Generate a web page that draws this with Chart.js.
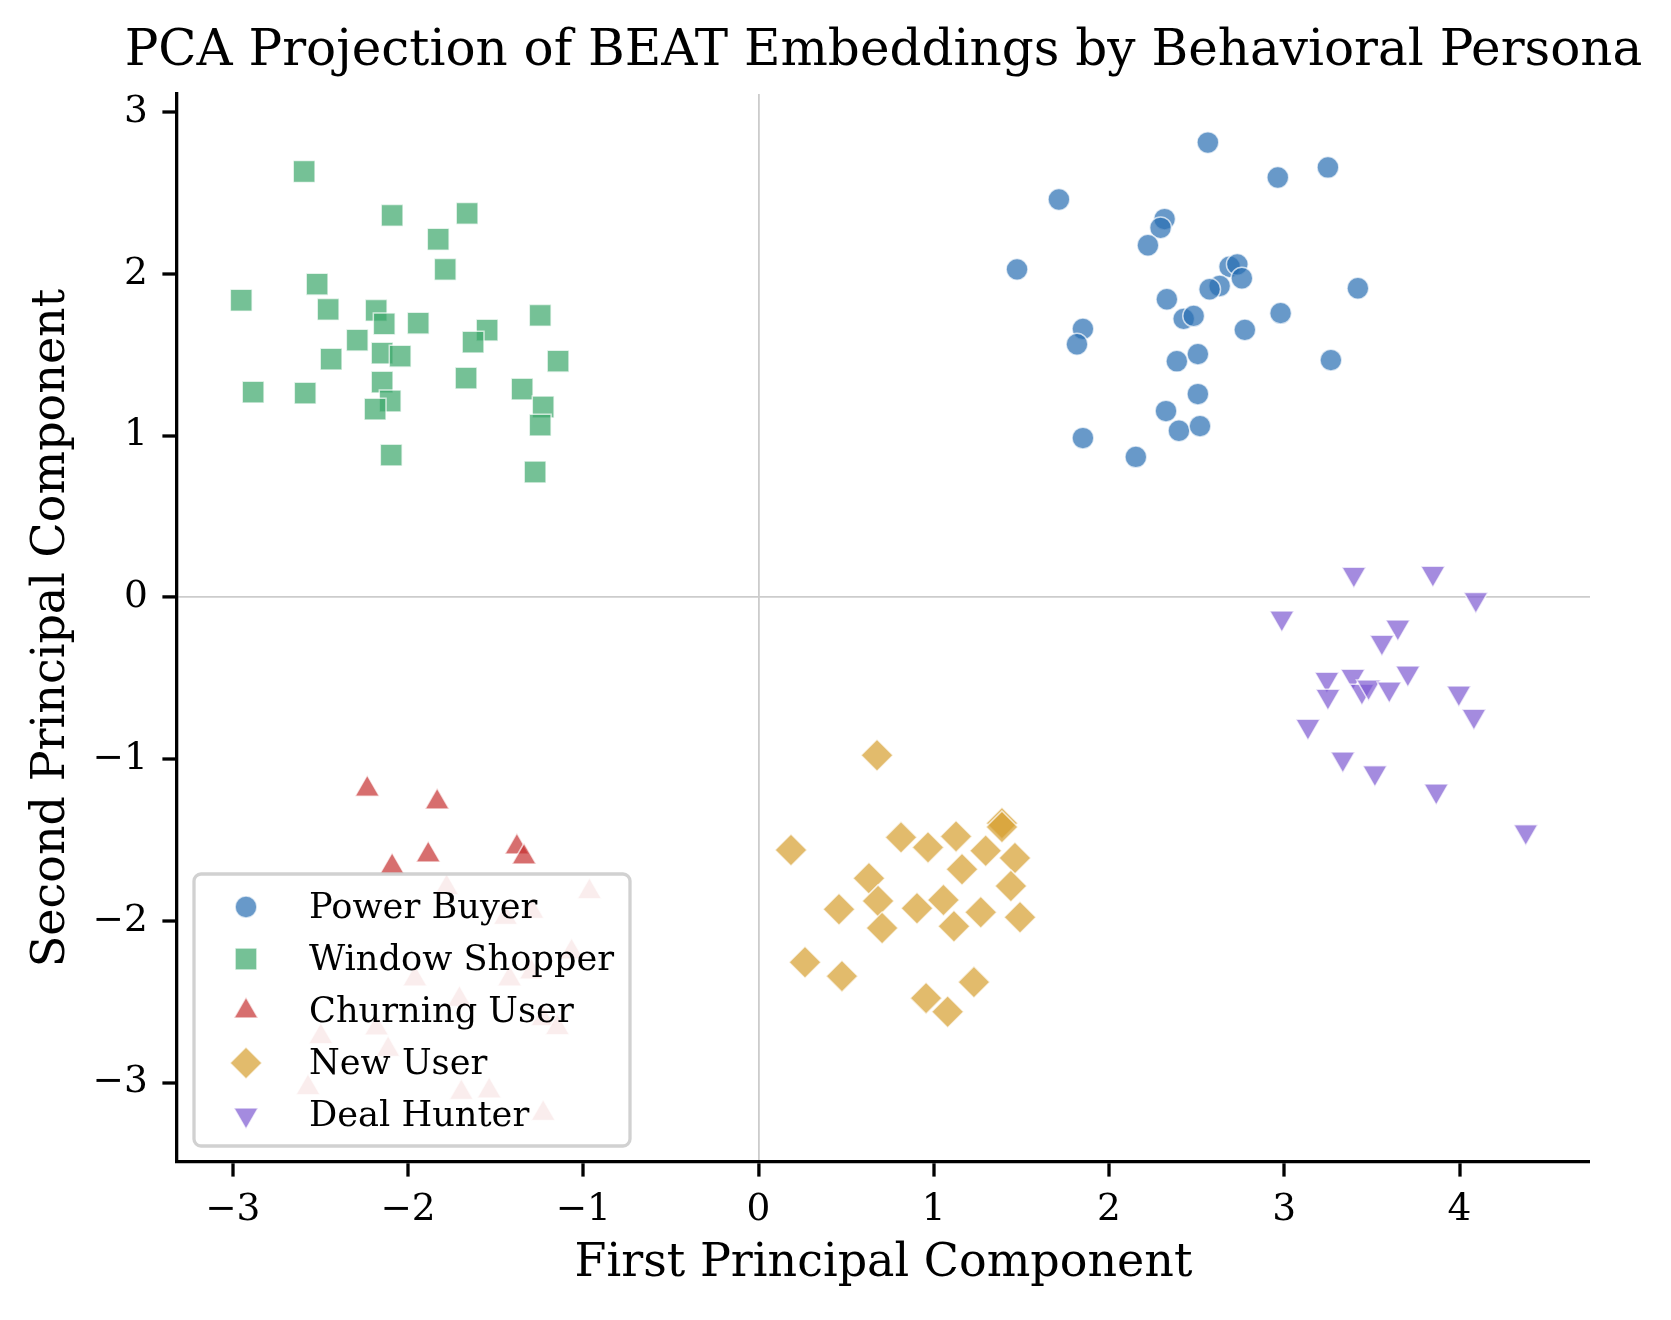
<!DOCTYPE html>
<html>
<head>
<meta charset="utf-8">
<script src="https://cdn.jsdelivr.net/npm/chart.js@4.4.1/dist/chart.umd.min.js"></script>
<style>
html,body{margin:0;padding:0;background:#ffffff;}
canvas{display:block;}
</style>
</head>
<body>
<canvas id="c" width="1671" height="1320"></canvas>
<script>
// ---- data ----
const personas = ['Power Buyer', 'Window Shopper', 'Churning User', 'New User', 'Deal Hunter'];

const powerBuyerX = [2.564, 2.963, 3.249, 1.714, 2.317, 2.294, 2.222, 1.475, 2.688, 2.732, 2.758, 2.631, 2.574, 3.420, 2.330, 2.426, 2.483, 2.979, 2.775, 1.851, 1.817, 2.507, 2.387, 3.266, 2.507, 2.325, 2.399, 2.519, 1.851, 2.153];
const powerBuyerY = [2.812, 2.596, 2.658, 2.460, 2.339, 2.285, 2.177, 2.028, 2.044, 2.059, 1.973, 1.925, 1.905, 1.911, 1.843, 1.722, 1.740, 1.757, 1.654, 1.660, 1.565, 1.504, 1.460, 1.467, 1.257, 1.152, 1.030, 1.059, 0.985, 0.868];

const windowShopperX = [-2.593, -2.091, -1.663, -1.828, -1.788, -2.519, -2.952, -2.456, -2.182, -2.136, -1.942, -1.246, -2.290, -1.549, -1.629, -2.148, -2.045, -2.439, -1.144, -1.669, -2.148, -2.884, -2.587, -1.349, -2.102, -2.188, -1.229, -1.246, -2.096, -1.275];
const windowShopperY = [2.633, 2.362, 2.374, 2.214, 2.028, 1.936, 1.837, 1.781, 1.775, 1.691, 1.695, 1.744, 1.590, 1.652, 1.578, 1.510, 1.491, 1.473, 1.460, 1.356, 1.331, 1.269, 1.263, 1.288, 1.214, 1.164, 1.177, 1.065, 0.880, 0.775];

const churningX = [-2.233, -1.834, -1.885, -1.379, -1.338, -2.091, -1.780, -0.965, -1.292, -1.444, -1.067, -1.961, -1.421, -1.296, -1.707, -1.231, -1.148, -2.180, -2.498, -2.114, -2.571, -1.696, -1.537, -1.229];
const churningY = [-1.186, -1.266, -1.593, -1.544, -1.606, -1.665, -1.795, -1.820, -1.943, -1.979, -2.192, -2.359, -2.359, -2.317, -2.486, -2.606, -2.661, -2.663, -2.716, -2.796, -3.032, -3.062, -3.052, -3.191];

const newUserX = [0.676, 0.185, 0.813, 0.967, 1.127, 1.389, 1.389, 1.296, 1.463, 1.161, 0.630, 0.682, 0.459, 0.904, 1.055, 1.440, 1.268, 0.705, 1.115, 1.492, 0.265, 0.476, 1.229, 0.956, 1.079];
const newUserY = [-0.976, -1.562, -1.484, -1.546, -1.478, -1.396, -1.420, -1.567, -1.612, -1.681, -1.737, -1.877, -1.928, -1.922, -1.871, -1.785, -1.947, -2.044, -2.033, -1.978, -2.256, -2.342, -2.379, -2.478, -2.562];

const dealHunterX = [3.397, 3.848, 4.093, 2.986, 3.648, 3.557, 3.243, 3.391, 3.705, 3.249, 3.443, 3.481, 3.599, 3.996, 4.082, 3.135, 3.334, 3.517, 3.867, 4.378];
const dealHunterY = [0.143, 0.149, -0.013, -0.128, -0.184, -0.277, -0.507, -0.488, -0.468, -0.612, -0.581, -0.554, -0.567, -0.591, -0.735, -0.797, -0.999, -1.085, -1.198, -1.449];

const xTickValues = [-3, -2, -1, 0, 1, 2, 3, 4];
const yTickValues = [-3, -2, -1, 0, 1, 2, 3];

const chartTitle = 'PCA Projection of BEAT Embeddings by Behavioral Persona';
const xLabel = 'First Principal Component';
const yLabel = 'Second Principal Component';

// ---- helpers ----
const zip = (xs, ys) => xs.map((x, i) => ({x: x, y: ys[i]}));
const allX = [].concat(powerBuyerX, windowShopperX, churningX, newUserX, dealHunterX);
const allY = [].concat(powerBuyerY, windowShopperY, churningY, newUserY, dealHunterY);
function padded(vals) {
  const lo = Math.min.apply(null, vals), hi = Math.max.apply(null, vals);
  const m = (hi - lo) * 0.05;
  return [lo - m, hi + m];
}
const xLim = padded(allX);
const yLim = padded(allY);
const fmt = v => (v < 0 ? '\u2212' + Math.abs(v) : String(v));
const SERIF = "'DejaVu Serif', 'Liberation Serif', serif";
const EDGE = 'rgba(255,255,255,0.7)';

function series(label, xs, ys, style, radius, color, rotation) {
  return {
    label: label,
    data: zip(xs, ys),
    pointStyle: style,
    pointRadius: radius,
    pointHoverRadius: radius,
    pointRotation: rotation || 0,
    pointBackgroundColor: color,
    pointBorderColor: EDGE,
    pointBorderWidth: 1.5,
    backgroundColor: color,
    borderColor: EDGE
  };
}

const datasets = [
  series(personas[0], powerBuyerX, powerBuyerY, 'circle', 10.9, 'rgba(40,110,178,0.7)'),
  series(personas[1], windowShopperX, windowShopperY, 'rect', 15.4, 'rgba(58,166,106,0.7)'),
  series(personas[2], churningX, churningY, 'triangle', 14, 'rgba(198,48,48,0.7)'),
  series(personas[3], newUserX, newUserY, 'rectRot', 16, 'rgba(214,158,46,0.7)'),
  series(personas[4], dealHunterX, dealHunterY, 'triangle', 14, 'rgba(125,90,210,0.7)', 180)
];

// title centred over the plot area (may be wider than the plot area)
const plotTitle = {
  id: 'plotTitle',
  afterDraw(chart) {
    const {ctx, chartArea} = chart;
    ctx.save();
    ctx.fillStyle = '#000';
    ctx.font = '50px ' + SERIF;
    ctx.textAlign = 'center';
    ctx.textBaseline = 'middle';
    ctx.fillText(chartTitle, (chartArea.left + chartArea.right) / 2, chartArea.top - 42);
    ctx.restore();
  }
};

// legend drawn inside the plot, lower-left, over the points (semi-opaque box)
const insideLegend = {
  id: 'insideLegend',
  afterDatasetsDraw(chart) {
    const {ctx, chartArea} = chart;
    const left = chartArea.left + 17;
    const w = 436, h = 272;
    const top = chartArea.bottom - 16 - h;
    ctx.save();
    ctx.beginPath();
    ctx.roundRect(left, top, w, h, 7);
    ctx.fillStyle = 'rgba(255,255,255,0.88)';
    ctx.fill();
    ctx.lineWidth = 3.3;
    ctx.strokeStyle = 'rgba(204,204,204,0.9)';
    ctx.stroke();
    chart.data.datasets.forEach((ds, i) => {
      const y = top + 33 + i * 52;
      ctx.fillStyle = ds.pointBackgroundColor;
      ctx.strokeStyle = ds.pointBorderColor;
      ctx.lineWidth = ds.pointBorderWidth;
      Chart.helpers.drawPoint(ctx, {
        pointStyle: ds.pointStyle,
        rotation: ds.pointRotation,
        radius: ds.pointRadius,
        borderWidth: ds.pointBorderWidth
      }, left + 52, y);
      ctx.fillStyle = '#000';
      ctx.font = '35.2px ' + SERIF;
      ctx.textAlign = 'left';
      ctx.textBaseline = 'alphabetic';
      ctx.fillText(ds.label, left + 115, y + 11);
    });
    ctx.restore();
  }
};

const zeroColor = c => (c.tick && c.tick.value === 0 ? 'rgb(204,204,204)' : 'rgba(0,0,0,0)');
const zeroWidth = c => (c.tick && c.tick.value === 0 ? 1.8 : 0);

new Chart(document.getElementById('c'), {
  type: 'scatter',
  data: {datasets: datasets},
  options: {
    responsive: false,
    animation: false,
    events: [],
    layout: {padding: {left: 0, right: 81, top: 94, bottom: 0}},
    plugins: {
      legend: {display: false},
      tooltip: {enabled: false},
      title: {display: false}
    },
    scales: {
      x: {
        type: 'linear',
        position: 'bottom',
        min: xLim[0],
        max: xLim[1],
        afterBuildTicks: s => { s.ticks = xTickValues.map(v => ({value: v})); },
        afterFit: s => { s.height = 158; },
        ticks: {
          callback: v => fmt(v),
          color: '#000',
          font: {family: SERIF, size: 37.5},
          padding: 11,
          maxRotation: 0,
          autoSkip: false
        },
        grid: {
          color: zeroColor,
          lineWidth: zeroWidth,
          drawTicks: true,
          tickLength: 14.6,
          tickWidth: 3.3,
          tickColor: '#000'
        },
        border: {display: true, color: '#000', width: 3.3},
        title: {
          display: true,
          text: xLabel,
          color: '#000',
          font: {family: SERIF, size: 46, weight: 'normal', lineHeight: 1.2},
          padding: {top: 0, bottom: 28}
        }
      },
      y: {
        type: 'linear',
        position: 'left',
        min: yLim[0],
        max: yLim[1],
        afterBuildTicks: s => { s.ticks = yTickValues.map(v => ({value: v})); },
        afterFit: s => { s.width = 177; },
        ticks: {
          callback: v => fmt(v),
          color: '#000',
          font: {family: SERIF, size: 37.5},
          padding: 14.6,
          autoSkip: false
        },
        grid: {
          color: zeroColor,
          lineWidth: zeroWidth,
          drawTicks: true,
          tickLength: 14.6,
          tickWidth: 3.3,
          tickColor: '#000'
        },
        border: {display: true, color: '#000', width: 3.3},
        title: {
          display: true,
          text: yLabel,
          color: '#000',
          font: {family: SERIF, size: 46, weight: 'normal', lineHeight: 1.2},
          padding: {top: 24, bottom: 0}
        }
      }
    }
  },
  plugins: [insideLegend, plotTitle]
});
</script>
</body>
</html>
